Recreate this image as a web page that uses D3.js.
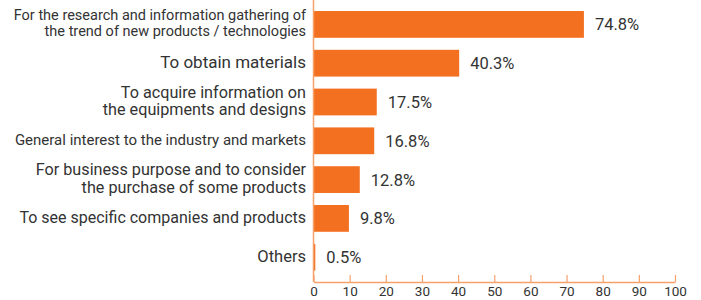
<!DOCTYPE html>
<html>
<head>
<meta charset="utf-8">
<script src="https://cdn.jsdelivr.net/npm/d3@7"></script>
<style>
  body { margin: 0; background: #fff; }
  text { font-family: Roboto, "Liberation Sans", Arial, sans-serif; }
</style>
</head>
<body>
<div id="chart"></div>
<script>
// Chart data
var categories = [
    ["For the research and information gathering of", "the trend of new products / technologies"],
    ["To obtain materials"],
    ["To acquire information on", "the equipments and designs"],
    ["General interest to the industry and markets"],
    ["For business purpose and to consider", "the purchase of some products"],
    ["To see specific companies and products"],
    ["Others"]
];
var values = [74.8, 40.3, 17.5, 16.8, 12.8, 9.8, 0.5];
var xTicks = [0, 10, 20, 30, 40, 50, 60, 70, 80, 90, 100];

// the source uses slightly different type sizes per label
var labelFontSizes = [14.5, 17, 16.2, 15, 16.2, 16, 16.5];

var svgWidth = 701;
var svgHeight = 300;
var barColor = "#f37021";
var axisColor = "#f7a06a";

var svg = d3.select("#chart")
    .append("svg")
    .attr("width", svgWidth)
    .attr("height", svgHeight);

// Scales
var xScale = d3.scaleLinear()
    .domain([0, 100])
    .range([313.5, 675]);

var yScale = d3.scaleBand()
    .domain(d3.range(values.length))
    .range([5, 276.6])
    .paddingInner(0.31)
    .paddingOuter(0.155);

var axisY = 282;

// Bars
svg.selectAll("rect.bar")
    .data(values)
    .enter()
    .append("rect")
    .attr("class", "bar")
    .attr("x", xScale(0))
    .attr("y", function (d, i) { return yScale(i); })
    .attr("width", function (d) { return xScale(d) - xScale(0); })
    .attr("height", yScale.bandwidth())
    .attr("fill", barColor);

// Value labels
svg.selectAll("text.value")
    .data(values)
    .enter()
    .append("text")
    .attr("class", "value")
    .attr("x", function (d) { return xScale(d) + 11; })
    .attr("y", function (d, i) { return yScale(i) + yScale.bandwidth() / 2; })
    .attr("dy", "0.36em")
    .attr("font-size", 16.5)
    .attr("fill", "#333")
    .text(function (d) { return d.toFixed(1) + "%"; });

// Category labels: one text per line, right aligned
categories.forEach(function (lines, i) {
    var size = labelFontSizes[i];
    var gap = size * 1.08;
    var mid = yScale(i) + yScale.bandwidth() / 2;
    var first = mid - (lines.length - 1) * gap / 2;
    svg.selectAll(null)
        .data(lines)
        .enter()
        .append("text")
        .attr("class", "cat")
        .attr("text-anchor", "end")
        .attr("font-size", size)
        .attr("fill", "#333")
        .attr("x", 306)
        .attr("y", function (d, j) { return first + j * gap; })
        .attr("dy", "0.27em")
        .text(function (d) { return d; });
});

// Vertical axis line
svg.append("line")
    .attr("x1", xScale(0))
    .attr("x2", xScale(0))
    .attr("y1", 0)
    .attr("y2", axisY)
    .attr("stroke", axisColor)
    .attr("stroke-width", 1.5);

// Bottom axis
var xAxis = d3.axisBottom(xScale)
    .tickValues(xTicks)
    .tickSizeInner(-7)
    .tickSizeOuter(0)
    .tickPadding(4);

var gx = svg.append("g")
    .attr("transform", "translate(0," + axisY + ")")
    .call(xAxis);

gx.select(".domain").attr("stroke", axisColor).attr("stroke-width", 1.5);
gx.selectAll(".tick line").attr("stroke", axisColor).attr("stroke-width", 1.2);
gx.selectAll(".tick text")
    .attr("font-family", "Roboto, 'Liberation Sans', Arial, sans-serif")
    .attr("font-size", 13.5)
    .attr("fill", "#333")
    .attr("y", 4)
    .attr("dy", "0.71em");
</script>
</body>
</html>
